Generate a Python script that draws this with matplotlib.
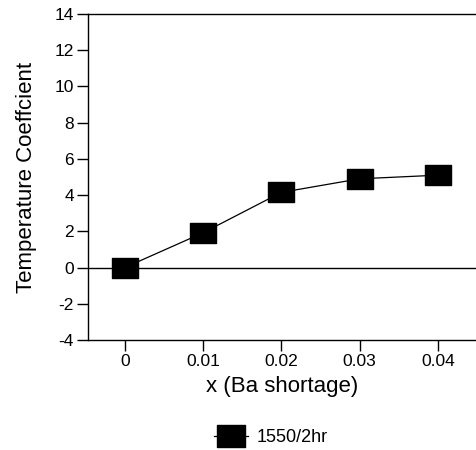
import matplotlib

matplotlib.use("Agg")
import matplotlib.pyplot as plt
from matplotlib.lines import Line2D
from matplotlib.path import Path

plt.rcParams["font.family"] = ["Liberation Sans", "DejaVu Sans"]
plt.rcParams["axes.unicode_minus"] = False

ba_shortage = [0.0, 0.01, 0.02, 0.03, 0.04]
temp_coeff = [0.0, 1.92, 4.15, 4.9, 5.1]
x_ticks = [0.0, 0.01, 0.02, 0.03, 0.04]
x_tick_labels = ["0", "0.01", "0.02", "0.03", "0.04"]
y_ticks = [-4, -2, 0, 2, 4, 6, 8, 10, 12, 14]
series_label = "1550/2hr"

# wide rectangle marker, like the scanned original
RECT = Path([(-1.3, -1), (1.3, -1), (1.3, 1), (-1.3, 1), (-1.3, -1)],
            [Path.MOVETO, Path.LINETO, Path.LINETO, Path.LINETO, Path.CLOSEPOLY])

fig = plt.figure(figsize=(4.77, 4.5), dpi=100)
ax = fig.add_axes([0.1845, 0.2444, 0.8155, 0.7246])

ax.plot(ba_shortage, temp_coeff, color="black", linewidth=0.9,
        marker=RECT, markersize=18.5, markerfacecolor="black",
        markeredgecolor="black", zorder=3)
ax.axhline(0, color="black", linewidth=1.0, zorder=1)

ax.set_xlim(-0.0047, 0.045)
ax.set_ylim(-4, 14)
ax.set_xticks(x_ticks)
ax.set_xticklabels(x_tick_labels)
ax.set_yticks(y_ticks)

ax.spines["right"].set_visible(False)
for side in ("left", "top", "bottom"):
    ax.spines[side].set_linewidth(1.0)
ax.tick_params(axis="both", direction="out", length=8, width=1.0,
               labelsize=12.5, pad=2)

ax.set_xlabel("x (Ba shortage)", fontsize=16, labelpad=5)
ax.set_ylabel("Temperature Coeffcient", fontsize=16, labelpad=13)

handle = Line2D([], [], color="black", linewidth=0.9, marker=RECT,
                markersize=20, markerfacecolor="black")
fig.legend(handles=[handle], labels=[series_label], loc="center",
           bbox_to_anchor=(0.568, 0.027), frameon=False, fontsize=13,
           handlelength=1.9, handletextpad=0.5)

fig.savefig("out.png", dpi=100)
